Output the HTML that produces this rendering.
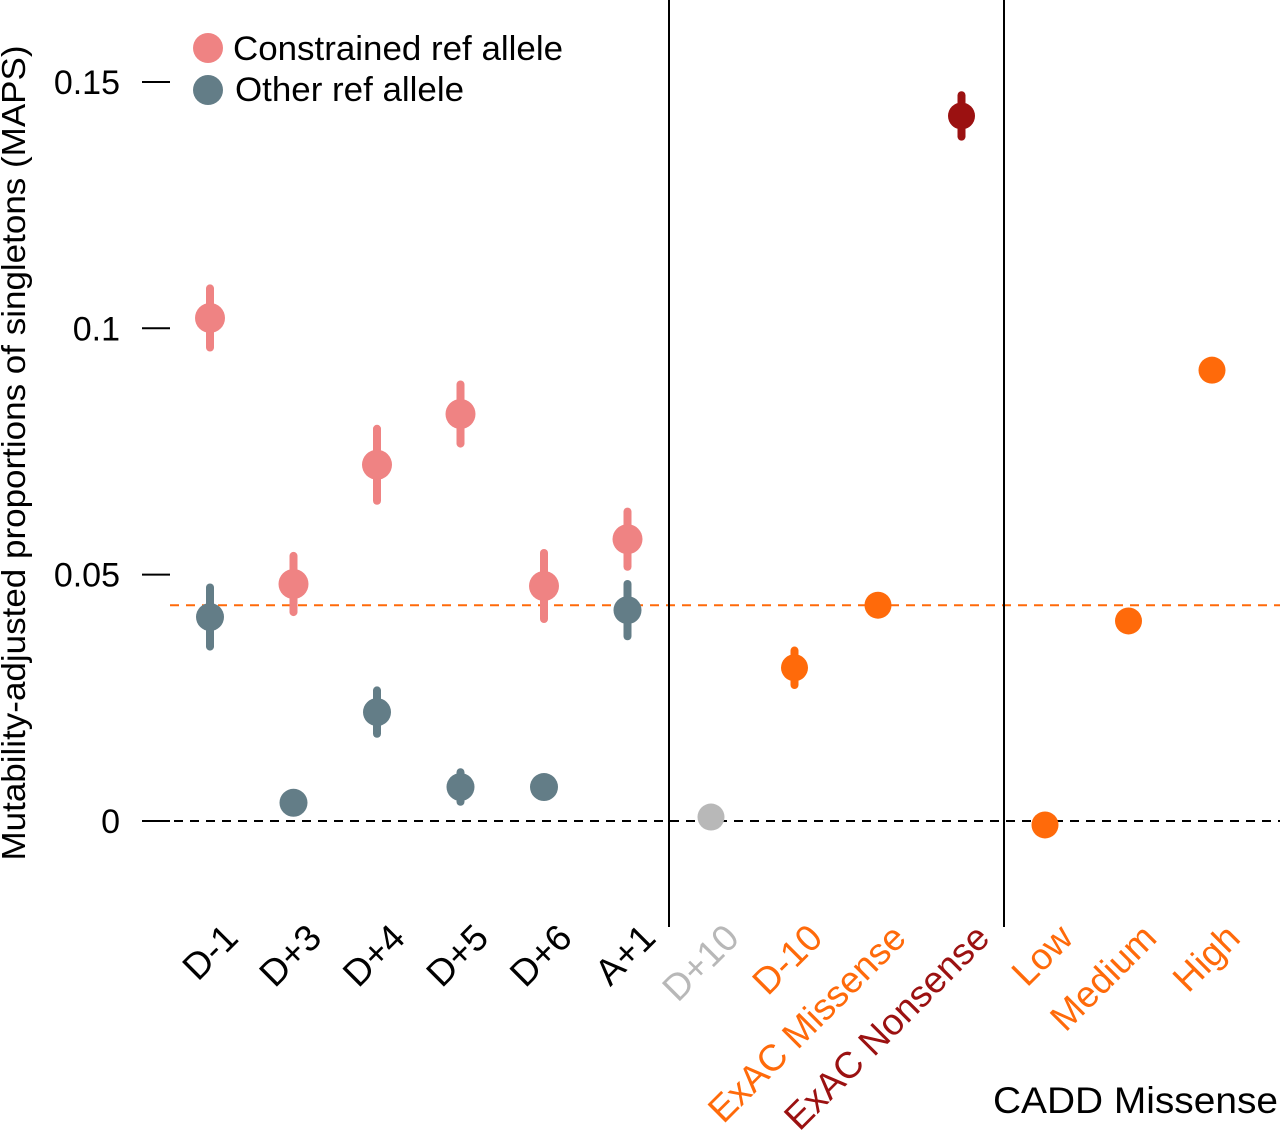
<!DOCTYPE html>
<html><head><meta charset="utf-8"><style>
html,body{margin:0;padding:0;background:#fff;}
svg{display:block;font-family:"Liberation Sans",Arial,sans-serif;}
</style></head><body>
<svg id="chart" width="1280" height="1135" viewBox="0 0 1280 1135" xmlns="http://www.w3.org/2000/svg">
<g id="axes"></g>
<g id="marks"></g>
<g id="labels"></g>
<g>
<circle cx="208" cy="48" r="15" fill="#ef8383"/>
<text x="233" y="60" font-size="34" textLength="330" lengthAdjust="spacingAndGlyphs">Constrained ref allele</text>
<circle cx="208" cy="90" r="15" fill="#637d87"/>
<text x="235" y="101" font-size="34" textLength="229" lengthAdjust="spacingAndGlyphs">Other ref allele</text>
</g>
<text transform="translate(25,453) rotate(-90)" text-anchor="middle" font-size="33" textLength="815" lengthAdjust="spacingAndGlyphs">Mutability-adjusted proportions of singletons (MAPS)</text>
<text x="1278" y="1113" text-anchor="end" font-size="37" textLength="285" lengthAdjust="spacingAndGlyphs">CADD Missense</text>
</svg>
<script>
const categories=["D-1","D+3","D+4","D+5","D+6","A+1","D+10","D-10","ExAC Missense","ExAC Nonsense","Low","Medium","High"];
const constrainedVals=[0.1021,0.0481,0.0723,0.0826,0.0477,0.0572];
const constrainedErr=[0.006,0.0057,0.0073,0.006,0.0067,0.0056];
const otherVals=[0.0414,0.0037,0.0221,0.0069,0.0069,0.0428];
const otherErr=[0.006,0.001,0.0044,0.003,0.001,0.0053];
const extraVals=[0.0008,0.0311,0.0438,0.1431,-0.0008,0.0406,0.0915];
const extraErr=[0,0.0035,0,0.0042,0,0,0];
const extraColors=["#b8b8b8","#ff6a0a","#ff6a0a","#9b1111","#ff6a0a","#ff6a0a","#ff6a0a"];
const labelColors=["#000","#000","#000","#000","#000","#000","#b8b8b8","#ff6a0a","#ff6a0a","#9b1111","#ff6a0a","#ff6a0a","#ff6a0a"];
const yTicks=[0,0.05,0.1,0.15];
const yTickLabels=["0","0.05","0.1","0.15"];
const refLine=0.0438;

const NS="http://www.w3.org/2000/svg";
const y=v=>821-v*4927;
const x=i=>210+i*83.5;
function el(tag,attrs,parent){const e=document.createElementNS(NS,tag);for(const k in attrs)e.setAttribute(k,attrs[k]);parent.appendChild(e);return e;}
const axes=document.getElementById('axes'),marks=document.getElementById('marks'),labels=document.getElementById('labels');

yTicks.forEach((t,i)=>{
 const l=el('line',{x1:142,x2:170,y1:y(t),y2:y(t),stroke:'#000','stroke-width':2},axes);
 
 
 const tx=el('text',{x:120,y:y(t)+12,'text-anchor':'end','font-size':34},axes);
 tx.textContent=yTickLabels[i];
 
 
});
const z=el('line',{x1:142,x2:1280,y1:y(0),y2:y(0),stroke:'#000','stroke-width':2,'stroke-dasharray':'9,7'},axes);


const r=el('line',{x1:170,x2:1280,y1:y(refLine),y2:y(refLine),stroke:'#ff6a0a','stroke-width':2,'stroke-dasharray':'9,7'},axes);


[669,1004].forEach(px=>{
 const v=el('line',{x1:px,x2:px,y1:0,y2:927,stroke:'#000','stroke-width':2},axes);
 
 
});

function point(i,val,err,color,rad,name){
 if(err>0){
  const b=el('line',{x1:x(i),x2:x(i),y1:y(val-err),y2:y(val+err),stroke:color,'stroke-width':8,'stroke-linecap':'round'},marks);
  
  
 }
 const c=el('circle',{cx:x(i),cy:y(val),r:rad,fill:color},marks);
 
 
}
constrainedVals.forEach((v,i)=>point(i,v,constrainedErr[i],'#ef8383',15,'constrained'));
otherVals.forEach((v,i)=>point(i,v,otherErr[i],'#637d87',14,'other'));
extraVals.forEach((v,i)=>point(i+6,v,extraErr[i],extraColors[i],13.5,'category'));

categories.forEach((c,i)=>{
 const ax=x(i)+30,ay=940;
 const t=el('text',{x:ax,y:ay,'text-anchor':'end','font-size':37,fill:labelColors[i],transform:`rotate(-45 ${ax} ${ay})`},labels);
 t.textContent=c;
 
 
});
</script>
</body></html>
